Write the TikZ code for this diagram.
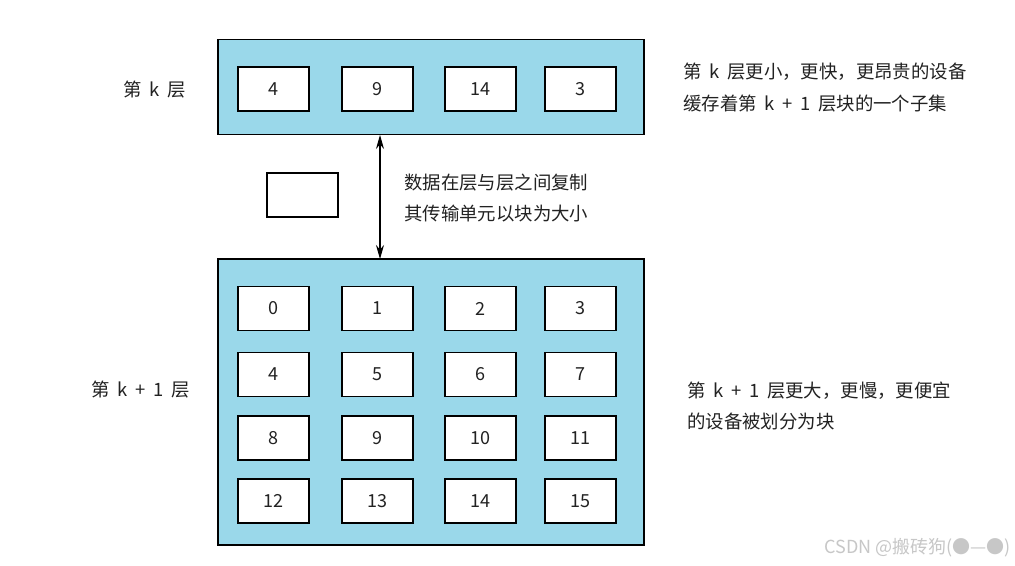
\documentclass[tikz,border=0pt]{standalone}
\usepackage{fontspec}
\setmainfont{Noto Sans CJK SC}
\usetikzlibrary{arrows.meta}
\definecolor{layerblue}{HTML}{9AD8EA}
\definecolor{txt}{HTML}{222222}
\newcommand{\wsp}{\hspace{0.42em}}
\tikzset{
  layer/.style={draw=black, line width=1.1pt, fill=layerblue},
  blk/.style={draw=black, line width=0.8pt, fill=white, minimum width=53.25pt, minimum height=33pt, inner sep=0pt, font=\fontsize{13.5}{15}\selectfont, text=txt},
  lbl/.style={font=\fontsize{13.8}{16}\selectfont, text=txt, inner sep=0pt},
  desc/.style={font=\fontsize{13.8}{23.5}\selectfont, text=txt, inner sep=0pt, anchor=west, align=left},
}
\begin{document}
\begin{tikzpicture}[x=0.75pt,y=-0.75pt]
\useasboundingbox (0,0) rectangle (1015,566);
\fill[white] (0,0) rectangle (1015,566);
% top layer
\node[layer, minimum width=319.5pt, minimum height=71.25pt, inner sep=0pt] (top) at (431,87) {};
\foreach \x/\t/\n in {273.5/4/a, 377.5/9/b, 480.5/14/c, 580.5/3/d}
  \node[blk] (t\n) at (\x,89) {\t};
% bottom layer
\node[layer, minimum width=319.5pt, minimum height=214.5pt, inner sep=0pt] (bot) at (431,402) {};
\foreach \y/\r in {308.5/0, 374.5/1, 438/2, 501/3}{
  \foreach \x/\c in {273.5/0, 377.5/1, 480.5/2, 580.5/3}{
    \pgfmathtruncatemacro\num{\r*4+\c}
    \node[blk] (b\r\c) at (\x,\y) {\num};
  }
}
% empty block
\node[blk] (empty) at (302.5,195) {};
% arrow
\coordinate (aTop) at (380,135);
\coordinate (aBot) at (380,259);
\draw[line width=0.8pt, {Stealth[length=10.5pt,width=6pt]}-{Stealth[length=10.5pt,width=6pt]}] (aTop) -- (aBot);
% labels
\node[lbl] (lk) at (155,90) {第\wsp k\wsp 层};
\node[lbl] (lk1) at (141,390) {第\wsp k\wsp +\wsp 1\wsp 层};
\node[desc] (d1) at (683,87.5) {第\wsp k\wsp 层更小，更快，更昂贵的设备\\缓存着第\wsp k\wsp +\wsp 1\wsp 层块的一个子集};
\node[desc] (d2) at (404,198) {数据在层与层之间复制\\其传输单元以块为大小};
\node[desc] (d3) at (687,406) {第\wsp k\wsp +\wsp 1\wsp 层更大，更慢，更便宜\\的设备被划分为块};
\node[font=\fontsize{13.5}{15}\selectfont, text=black!22, anchor=east, inner sep=0pt] (wm) at (1011,548) {CSDN @搬砖狗(●—●)};
\end{tikzpicture}
\end{document}
